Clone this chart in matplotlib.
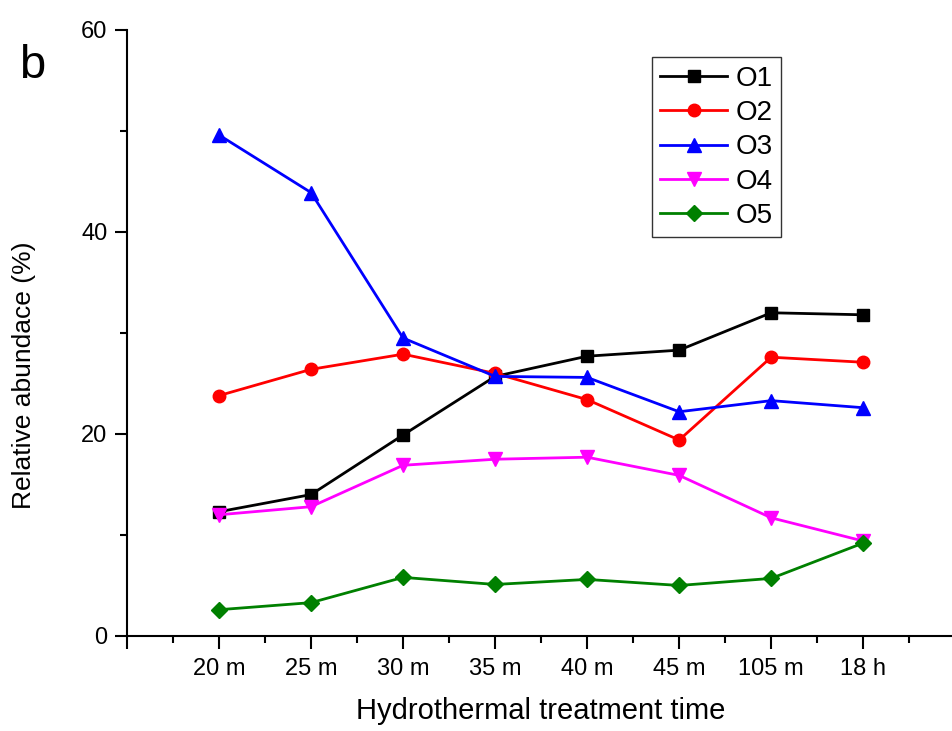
import numpy as np
import matplotlib
matplotlib.use('Agg')
import matplotlib.pyplot as plt
from matplotlib.ticker import MultipleLocator

plt.rcParams['font.family'] = ['Liberation Sans', 'DejaVu Sans']

# data
times = ['20 m', '25 m', '30 m', '35 m', '40 m', '45 m', '105 m', '18 h']
o1 = [12.3, 14.0, 19.9, 25.7, 27.7, 28.3, 32.0, 31.8]
o2 = [23.8, 26.4, 27.9, 26.0, 23.4, 19.4, 27.6, 27.1]
o3 = [49.6, 43.9, 29.5, 25.7, 25.6, 22.2, 23.3, 22.6]
o4 = [12.0, 12.8, 16.9, 17.5, 17.7, 15.9, 11.7, 9.4]
o5 = [2.6, 3.3, 5.8, 5.1, 5.6, 5.0, 5.7, 9.2]

x = np.arange(1, len(times) + 1)

fig = plt.figure(figsize=(9.52, 7.31), dpi=100)
ax = fig.add_axes([0.1334, 0.13, 0.870, 0.829])

lw = 2.0
ax.plot(x, o1, color='black', marker='s', markersize=8, lw=lw, label='O1')
ax.plot(x, o2, color='red', marker='o', markersize=9, lw=lw, label='O2')
ax.plot(x, o3, color='blue', marker='^', markersize=10, lw=lw, label='O3')
ax.plot(x, o4, color='magenta', marker='v', markersize=10, lw=lw, label='O4')
ax.plot(x, o5, color='green', marker='D', markersize=8, lw=lw, label='O5')

ax.set_xlim(0, 9)
ax.set_ylim(0, 60)
ax.set_xticks(np.arange(0, 9))
ax.set_xticklabels([''] + times)
ax.xaxis.set_minor_locator(MultipleLocator(0.5))
ax.yaxis.set_major_locator(MultipleLocator(20))
ax.yaxis.set_minor_locator(MultipleLocator(10))

for s in ['top', 'right']:
    ax.spines[s].set_visible(False)
for s in ['left', 'bottom']:
    ax.spines[s].set_linewidth(1.5)

ax.tick_params(which='major', direction='out', length=9, width=1.5, labelsize=17, pad=5)
ax.tick_params(which='minor', direction='out', length=5, width=1.5)
ax.tick_params(axis='x', labelsize=17, pad=7)

ax.set_xlabel('Hydrothermal treatment time', fontsize=21, labelpad=12)
ax.set_ylabel('Relative abundace (%)', fontsize=19)
ax.yaxis.set_label_coords(-0.11, 0.43)

leg = ax.legend(loc='upper left', bbox_to_anchor=(0.634, 0.955), borderaxespad=0,
                fontsize=20, frameon=True, fancybox=False, handlelength=2.4,
                labelspacing=0.3, handletextpad=0.3, borderpad=0.3)
leg.get_frame().set_edgecolor('black')
leg.get_frame().set_linewidth(1.0)

fig.text(0.02, 0.893, 'b', fontsize=34)

fig.savefig('out.png', dpi=100)
